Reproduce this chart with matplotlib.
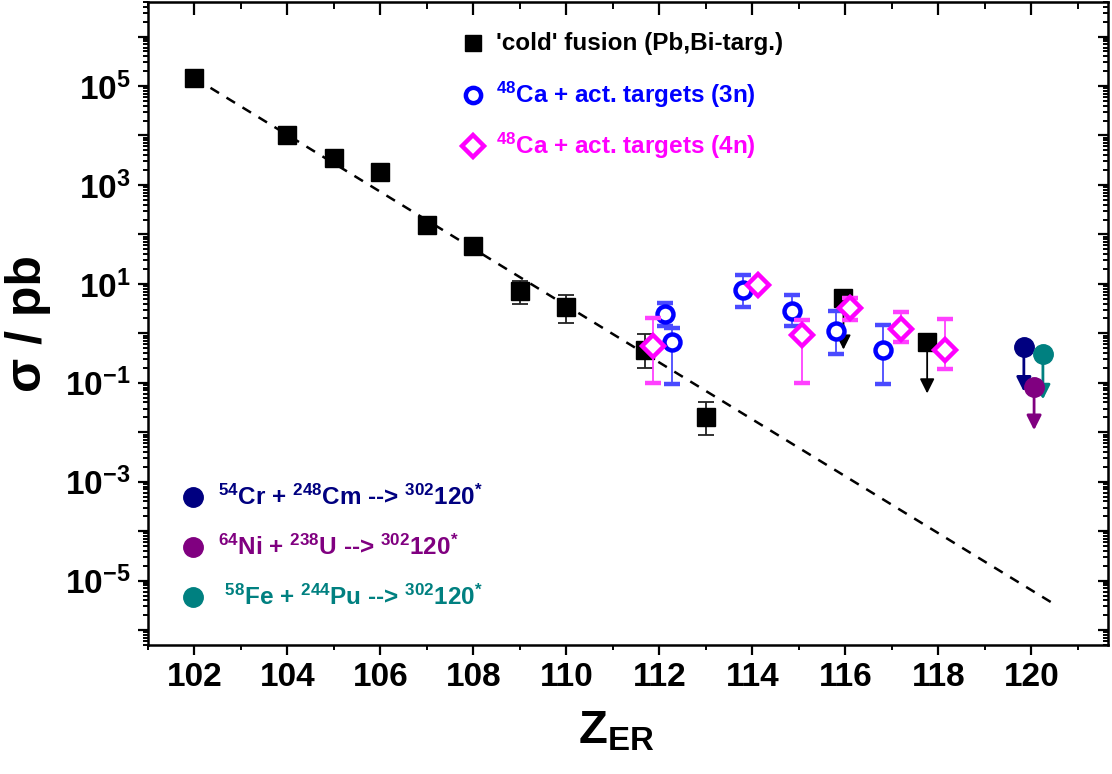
import matplotlib
matplotlib.use('Agg')
import numpy as np
import matplotlib.pyplot as plt
from matplotlib.ticker import MultipleLocator, LogLocator, FixedLocator, NullFormatter

plt.rcParams['font.family'] = ['Liberation Sans', 'DejaVu Sans']
plt.rcParams['font.weight'] = 'bold'
plt.rcParams['axes.labelweight'] = 'bold'
plt.rcParams['mathtext.fontset'] = 'custom'
plt.rcParams['mathtext.rm'] = 'Liberation Sans:bold'
plt.rcParams['mathtext.bf'] = 'Liberation Sans:bold'
plt.rcParams['mathtext.it'] = 'Liberation Sans:bold'
plt.rcParams['mathtext.default'] = 'rm'

## data
# cold fusion (Pb, Bi targets)
cold_z = [102, 104, 105, 106, 107, 108, 109, 110, 111.7, 113]
cold_s = [1.45e5, 1.0e4, 3.5e3, 1.8e3, 158, 59, 7.1, 3.4, 0.47, 0.02]
cold_lo = [1.45e5, 1.0e4, 3.5e3, 1.8e3, 158, 59, 4.0, 1.6, 0.2, 0.0087]
cold_hi = [1.45e5, 1.0e4, 3.5e3, 1.8e3, 158, 59, 11.5, 5.9, 0.95, 0.04]
cold_lim_z = [115.96, 117.76]
cold_lim_s = [5.2, 0.66]
cold_lim_tip = [0.47, 0.061]

# 48Ca + actinide targets, 3n
ca3_z = [112.12, 112.27, 113.8, 114.86, 115.8, 116.8]
ca3_s = [2.5, 0.66, 7.4, 2.8, 1.13, 0.47]
ca3_lo = [1.4, 0.094, 3.4, 1.4, 0.38, 0.094]
ca3_hi = [4.2, 1.3, 14.8, 5.9, 2.8, 1.5]

# 48Ca + actinide targets, 4n
ca4_z = [111.86, 114.13, 115.06, 116.1, 117.2, 118.15]
ca4_s = [0.56, 9.6, 0.93, 3.25, 1.23, 0.47]
ca4_lo = [0.1, 8.5, 0.1, 1.9, 0.66, 0.19]
ca4_hi = [2.0, 11.0, 1.9, 5.2, 2.7, 1.95]

# Z=120 upper limits
lim_names = [r'$^{54}$Cr + $^{248}$Cm --> $^{302}$120$^{*}$',
             r'$^{64}$Ni + $^{238}$U --> $^{302}$120$^{*}$',
             r' $^{58}$Fe + $^{244}$Pu --> $^{302}$120$^{*}$']
lim_colors = ['#000080', '#800080', '#008080']
lim_z = [119.84, 120.06, 120.25]
lim_s = [0.52, 0.083, 0.38]
lim_tip = [0.066, 0.011, 0.046]

# systematics line
fit_z = [102, 120.46]
fit_s = [1.45e5, 3.5e-6]


def yerr(s, lo, hi):
    s = np.array(s)
    return [s - np.array(lo), np.array(hi) - s]


fig = plt.figure(figsize=(11.12, 7.74), dpi=100)
ax = fig.add_axes([0.1331, 0.1667, 0.8633, 0.8307])
ax.set_yscale('log')

ax.plot(fit_z, fit_s, '--', color='black', lw=1.8, dashes=(4, 3.5), zorder=1)

ax.errorbar(cold_z, cold_s, yerr=yerr(cold_s, cold_lo, cold_hi), fmt='s', ms=12.5,
            color='black', ecolor='#222222', elinewidth=1.3, capsize=6, capthick=1.3, zorder=3)
ax.plot(cold_lim_z, cold_lim_s, 's', ms=12.5, color='black', zorder=3)
for z, s, t in zip(cold_lim_z, cold_lim_s, cold_lim_tip):
    ax.annotate('', xy=(z, t), xytext=(z, s),
                arrowprops=dict(arrowstyle='-|>', color='black', lw=1.3,
                                mutation_scale=22, shrinkA=0, shrinkB=0), zorder=2)

ax.errorbar(ca3_z, ca3_s, yerr=yerr(ca3_s, ca3_lo, ca3_hi), fmt='o', ms=11.5, mew=3.2,
            mfc='white', mec='#0000ff', ecolor='#4a4aff', elinewidth=1.3, capsize=6,
            capthick=1.3, zorder=4)
ax.errorbar(ca4_z, ca4_s, yerr=yerr(ca4_s, ca4_lo, ca4_hi), fmt='D', ms=11, mew=3.2,
            mfc='white', mec='#ff00ff', ecolor='#ff40ff', elinewidth=1.3, capsize=6,
            capthick=1.3, zorder=5)

for z, s, t, c in zip(lim_z, lim_s, lim_tip, lim_colors):
    ax.annotate('', xy=(z, t), xytext=(z, s),
                arrowprops=dict(arrowstyle='-|>', color=c, lw=2,
                                mutation_scale=22, shrinkA=0, shrinkB=0), zorder=5)
    ax.plot([z], [s], 'o', ms=14, color=c, zorder=6)

ax.set_xlim(101, 121.65)
ax.set_ylim(5e-7, 5e6)

# axes styling
for sp in ax.spines.values():
    sp.set_linewidth(1.8)
ax.xaxis.set_major_locator(MultipleLocator(2))
ax.xaxis.set_minor_locator(MultipleLocator(1))
dec = [10.0 ** k for k in range(-6, 7)]
ax.yaxis.set_major_locator(FixedLocator(dec))
ax.yaxis.set_minor_locator(LogLocator(base=10, subs=np.arange(2, 10), numticks=30))
ax.yaxis.set_minor_formatter(NullFormatter())
ax.set_yticks(dec)
ax.set_yticklabels([r'$10^{%d}$' % k if k % 2 else '' for k in range(-6, 7)])
ax.tick_params(axis='both', which='major', direction='out', length=7.5, width=1.6,
               labelsize=24, pad=5)
ax.tick_params(axis='both', which='minor', direction='out', length=3.8, width=1.4)

top = ax.secondary_xaxis('top')
top.xaxis.set_major_locator(MultipleLocator(2))
top.xaxis.set_minor_locator(MultipleLocator(1))
top.tick_params(which='major', direction='in', length=9, width=1.6, labeltop=False)
top.tick_params(which='minor', direction='in', length=5, width=1.4)
right = ax.secondary_yaxis('right')
right.yaxis.set_major_locator(FixedLocator(dec))
right.yaxis.set_minor_locator(LogLocator(base=10, subs=np.arange(2, 10), numticks=30))
right.yaxis.set_minor_formatter(NullFormatter())
right.tick_params(which='major', direction='in', length=7.5, width=1.6, labelright=False)
right.tick_params(which='minor', direction='in', length=3.8, width=1.4)

ax.set_xlabel(r'Z$_{\mathrm{ER}}$', fontsize=34, fontweight='bold', labelpad=12)
ax.xaxis.set_label_coords(0.488, -0.1)
ax.xaxis.label.set_va('top')
ax.set_ylabel('σ / pb', fontsize=36, fontweight='bold', labelpad=10)

# top legend
leg_rows = [(0.936, 's', 'black', "'cold' fusion (Pb,Bi-targ.)"),
            (0.855, 'o', '#0000ff', r'$^{48}$Ca + act. targets (3n)'),
            (0.776, 'D', '#ff00ff', r'$^{48}$Ca + act. targets (4n)')]
for y, m, c, lab in leg_rows:
    if m == 's':
        ax.plot([0.3385], [y], m, ms=12, color=c, transform=ax.transAxes)
    else:
        ax.plot([0.3385], [y], m, ms=11, mew=3.2, mfc='white', mec=c,
                transform=ax.transAxes)
    ax.text(0.362, y, lab, color=c, fontsize=17.5, fontweight='bold', va='center',
            ha='left', transform=ax.transAxes)

# bottom-left legend
for y, c, lab in zip([0.230, 0.152, 0.0747], lim_colors, lim_names):
    ax.plot([0.0469], [y], 'o', ms=14, color=c, transform=ax.transAxes)
    ax.text(0.0729, y, lab, color=c, fontsize=17.5, fontweight='bold', va='center',
            ha='left', transform=ax.transAxes)

fig.savefig('out.png', dpi=100)
